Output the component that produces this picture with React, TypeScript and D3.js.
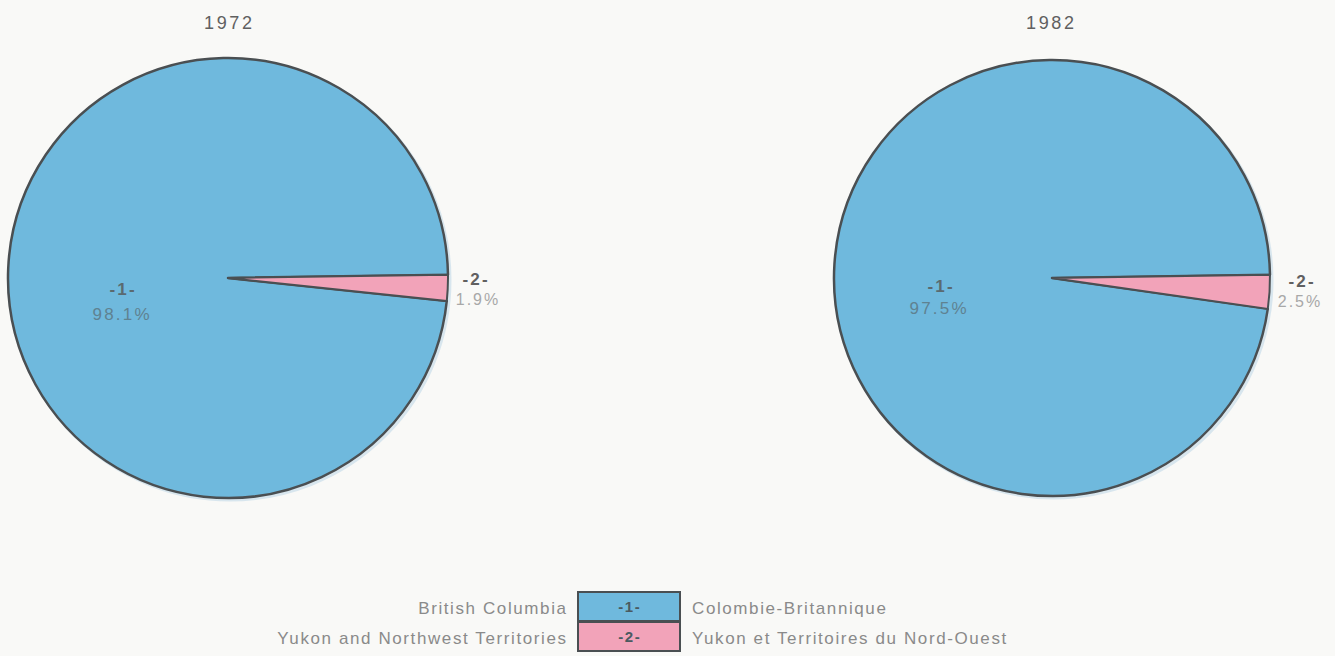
import React from "react";
import * as d3 from "d3";

const years = ["1972", "1982"];
const codes = ["-1-", "-2-"];
const namesEn = ["British Columbia", "Yukon and Northwest Territories"];
const namesFr = ["Colombie-Britannique", "Yukon et Territoires du Nord-Ouest"];
const values1972 = [98.1, 1.9];
const values1982 = [97.5, 2.5];
const colors = ["#6fb9dd", "#f2a3b9"];

const W = 1335;
const H = 656;

type PieSpec = {
  year: string; values: number[]; cx: number; cy: number; r: number; titleX: number;
  code1: [number, number]; pct1: [number, number]; code2: [number, number]; pct2: [number, number];
};

const pies: PieSpec[] = [
  { year: years[0], values: values1972, cx: 228, cy: 278, r: 220, titleX: 228,
    code1: [122, 295], pct1: [121, 320], code2: [475, 285], pct2: [477, 305] },
  { year: years[1], values: values1982, cx: 1052, cy: 278, r: 218, titleX: 1050,
    code1: [940, 292], pct1: [938, 314], code2: [1301, 287], pct2: [1299, 307] },
];

function T(props: any) {
  const { x, anchor, ls = 2, children, ...rest } = props;
  const shift = anchor === "middle" ? ls / 2 : anchor === "end" ? ls : 0;
  return (
    <text x={x + shift} textAnchor={anchor} letterSpacing={ls} {...rest}>{children}</text>
  );
}

export default function App() {
  const offset = (Math.PI / 2) - 0.015;
  return (
    <svg width={W} height={H} style={{ position: "absolute", left: 0, top: 0, background: "#f9f9f7" }}
      fontFamily="Liberation Sans, Arial, sans-serif">
      {pies.map((p, i) => {
        const frac = p.values[1] / 100;
        const pie = d3.pie<number>().sort(null).value(d => d)
          .startAngle(offset + 2 * Math.PI * frac)
          .endAngle(offset + 2 * Math.PI + 2 * Math.PI * frac);
        const arcs = pie(p.values);
        const a1 = { ...arcs[0], startAngle: offset + 2 * Math.PI * frac, endAngle: offset + 2 * Math.PI };
        const a2 = { ...arcs[1], startAngle: offset, endAngle: offset + 2 * Math.PI * frac };
        const arc = d3.arc<any>().innerRadius(0).outerRadius(p.r);
        return (
          <g key={i}>
            <T x={p.titleX} y={29} anchor="middle" fontSize={18} ls={2.6} fill="#606060">{p.year}</T>
            <circle cx={p.cx + 2} cy={p.cy + 2} r={p.r} fill="none" stroke="#d8e6ee" strokeWidth={3} />
            <g transform={`translate(${p.cx},${p.cy})`}>
              <path d={arc(a1) as string} fill={colors[0]} stroke="#4a4f52" strokeWidth={2.5} strokeLinejoin="round" />
              <path d={arc(a2) as string} fill={colors[1]} stroke="#4a4f52" strokeWidth={2} strokeLinejoin="round" />
            </g>
            <T x={p.code1[0]} y={p.code1[1]} anchor="middle" fontSize={17} ls={2.2} fontWeight="bold" fill="#5a6a70">{codes[0]}</T>
            <T x={p.pct1[0]} y={p.pct1[1]} anchor="middle" fontSize={17} ls={2.2} fill="#5f8291">{d3.format(".1f")(p.values[0])}%</T>
            <T x={p.code2[0]} y={p.code2[1]} anchor="middle" fontSize={17} ls={2.2} fontWeight="bold" fill="#606060">{codes[1]}</T>
            <T x={p.pct2[0]} y={p.pct2[1]} anchor="middle" fontSize={16} ls={2} fill="#a8a8a8">{d3.format(".1f")(p.values[1])}%</T>
          </g>
        );
      })}
      {codes.map((c, i) => {
        const y0 = 592 + i * 30;
        return (
          <g key={c}>
            <rect x={578} y={y0} width={102} height={29} fill={colors[i]} stroke="#4a4f52" strokeWidth={2} />
            <T x={629} y={y0 + 20} anchor="middle" fontSize={15} ls={1.5} fontWeight="bold" fill="#4a5a60">{c}</T>
            <T x={566} y={y0 + 22} anchor="end" fontSize={17} ls={1.6} fill="#8a8a8a">{namesEn[i]}</T>
            <T x={692} y={y0 + 22} anchor="start" fontSize={17} ls={1.6} fill="#8a8a8a">{namesFr[i]}</T>
          </g>
        );
      })}
    </svg>
  );
}
